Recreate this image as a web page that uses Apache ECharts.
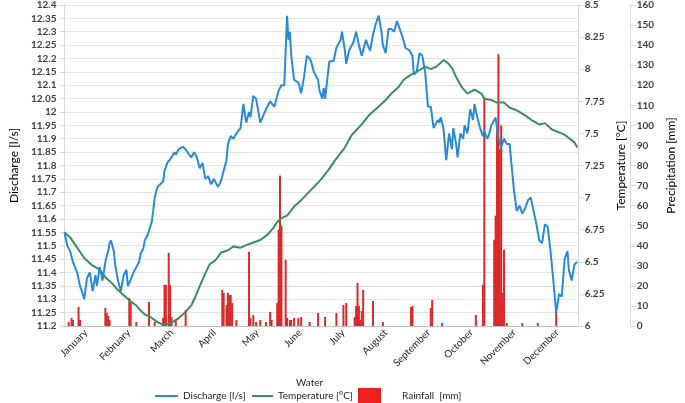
<!DOCTYPE html>
<html>
<head>
<meta charset="utf-8">
<script src="https://cdn.jsdelivr.net/npm/echarts@6/dist/echarts.min.js"></script>
<style>
html, body { margin: 0; padding: 0; background: #fff; }
#main { width: 685px; height: 403px; }
</style>
</head>
<body>
<div id="main"></div>
<script>
// months on the category axis, data on a hidden day-of-year axis (0..365)
const months = ['January', 'February', 'March', 'April', 'May', 'June', 'July',
    'August', 'September', 'October', 'November', 'December'];

// [day, discharge l/s]
const discharge = [
    [0, 11.55], [2, 11.50], [4, 11.48], [6, 11.44], [9, 11.40], [11, 11.35], [13, 11.32], [14, 11.30],
    [16, 11.38], [18, 11.40], [20, 11.33], [22, 11.39], [23, 11.35], [25, 11.42], [27, 11.37], [29, 11.44],
    [31, 11.48], [32, 11.51], [33, 11.52], [35, 11.48], [36, 11.43], [38, 11.37], [40, 11.33], [42, 11.39],
    [44, 11.41], [45, 11.35], [46, 11.36], [49, 11.40], [51, 11.42], [53, 11.44], [54, 11.47], [56, 11.49],
    [57, 11.52], [59, 11.54], [62, 11.59], [63, 11.63], [64, 11.68], [66, 11.72], [68, 11.73], [70, 11.74],
    [71, 11.78], [73, 11.81], [76, 11.83], [78, 11.85], [79, 11.84], [81, 11.86], [84, 11.87], [86, 11.86],
    [87, 11.86], [90, 11.83], [92, 11.85], [94, 11.83], [96, 11.79], [98, 11.81], [100, 11.75], [102, 11.76],
    [104, 11.73], [106, 11.75], [109, 11.72], [111, 11.74], [113, 11.78], [115, 11.82], [116, 11.88], [118, 11.91],
    [120, 11.90], [122, 11.92], [125, 11.94], [127, 12.03], [129, 11.96], [131, 12.00], [132, 11.98], [134, 12.06],
    [136, 12.05], [138, 11.99], [139, 11.96], [143, 12.01], [146, 12.04], [149, 12.02], [152, 12.08], [154, 12.10],
    [156, 12.10], [158, 12.36], [159, 12.27], [160, 12.30], [161, 12.21], [163, 12.12], [166, 12.11], [168, 12.07],
    [170, 12.13], [172, 12.21], [174, 12.20], [175, 12.19], [177, 12.15], [180, 12.12], [181, 12.08], [183, 12.05],
    [184, 12.09], [185, 12.05], [188, 12.19], [191, 12.19], [193, 12.24], [196, 12.27], [197, 12.30], [199, 12.23],
    [200, 12.18], [202, 12.23], [205, 12.26], [207, 12.30], [209, 12.25], [211, 12.21], [213, 12.25], [214, 12.27],
    [216, 12.24], [217, 12.23], [219, 12.29], [221, 12.33], [223, 12.36], [224, 12.33], [225, 12.30], [226, 12.25],
    [228, 12.22], [230, 12.31], [232, 12.31], [234, 12.30], [236, 12.34], [238, 12.31], [240, 12.28], [242, 12.24],
    [245, 12.23], [247, 12.21], [248, 12.14], [250, 12.15], [252, 12.22], [254, 12.21], [256, 12.15], [258, 12.02],
    [260, 12.02], [262, 11.94], [265, 11.97], [266, 11.96], [267, 11.98], [269, 11.94], [271, 11.82], [273, 11.92],
    [275, 11.86], [276, 11.94], [278, 11.88], [279, 11.83], [281, 11.92], [283, 11.90], [284, 11.95], [286, 11.92],
    [288, 12.01], [290, 11.97], [291, 12.03], [293, 11.98], [295, 11.94], [297, 11.91], [298, 11.93], [300, 11.90],
    [301, 11.91], [303, 11.95], [306, 11.98], [308, 11.90], [310, 11.87], [312, 11.90], [314, 11.88], [316, 11.88],
    [317, 11.82], [319, 11.71], [321, 11.63], [323, 11.65], [325, 11.62], [327, 11.64], [329, 11.67], [331, 11.68],
    [333, 11.63], [335, 11.58], [337, 11.52], [339, 11.51], [341, 11.58], [343, 11.57], [345, 11.48], [347, 11.37],
    [349, 11.25], [350, 11.28], [351, 11.32], [353, 11.31], [355, 11.45], [357, 11.48], [358, 11.41], [360, 11.37],
    [362, 11.43], [364, 11.44]
];

// [day, water temperature °C]
const temperature = [
    [0, 6.73], [4, 6.69], [9, 6.61], [14, 6.53], [20, 6.47], [25, 6.44], [29, 6.38], [34, 6.33], [38, 6.28],
    [42, 6.24], [46, 6.20], [51, 6.16], [54, 6.12], [57, 6.09], [61, 6.07], [66, 6.03], [70, 6.01], [75, 6.02],
    [78, 6.04], [81, 6.06], [86, 6.11], [90, 6.16], [93, 6.23], [96, 6.31], [100, 6.41], [103, 6.48], [107, 6.51],
    [111, 6.57], [116, 6.59], [120, 6.62], [125, 6.61], [129, 6.63], [134, 6.65], [139, 6.67], [144, 6.71],
    [148, 6.76], [151, 6.81], [154, 6.84], [158, 6.86], [163, 6.93], [168, 6.98], [175, 7.06], [182, 7.14],
    [187, 7.21], [192, 7.29], [199, 7.39], [204, 7.49], [211, 7.57], [216, 7.64], [223, 7.71], [228, 7.76],
    [232, 7.81], [237, 7.86], [241, 7.92], [245, 7.95], [250, 7.98], [256, 8.02], [260, 8.00], [264, 8.02],
    [269, 8.07], [272, 8.05], [275, 8.01], [278, 7.94], [282, 7.86], [286, 7.81], [291, 7.84], [296, 7.81],
    [298, 7.77], [303, 7.76], [307, 7.74], [312, 7.74], [316, 7.70], [321, 7.68], [327, 7.64], [332, 7.60],
    [337, 7.57], [341, 7.58], [346, 7.53], [355, 7.49], [362, 7.43], [364, 7.39]
];

// [day, rainfall mm]
const rainfall = [
    [3, 2], [5, 4], [6, 3], [10, 9.5], [11, 3], [29, 9], [30, 6.5], [31, 5], [32, 3], [46, 14], [47, 11.5],
    [51, 2], [60, 12], [64, 2], [70, 4], [71, 20.5], [72, 20.5], [74, 36.5], [75, 20.5], [76, 4.5], [79, 3],
    [86, 8], [112, 18], [113, 16.5], [115, 10.5], [116, 16.5], [117, 15.5], [118, 15.5], [119, 11.5], [122, 3],
    [131, 37], [132, 4], [134, 5.5], [136, 2], [139, 3], [143, 2], [146, 7], [147, 3], [151, 11.5], [152, 48],
    [153, 75], [154, 50], [157, 33], [158, 4], [160, 3], [161, 3], [163, 4], [166, 4], [168, 4.5], [174, 2],
    [180, 6.5], [185, 4.5], [193, 6.5], [198, 10.5], [200, 11.5], [206, 4.5], [207, 10], [208, 21.5], [209, 10],
    [210, 3], [211, 7.5], [212, 18], [219, 12.5], [226, 2], [246, 9.5], [247, 10], [260, 9], [261, 13],
    [268, 1.5], [292, 5.5], [297, 20.5], [298, 114], [305, 43], [306, 55], [307, 98], [308, 135.5], [309, 88],
    [310, 100], [311, 16.5], [312, 38], [314, 1.5], [325, 1.5], [336, 1.5], [349, 7]
];

const font = 'Lato, "Noto Sans", sans-serif';
const blue = '#2a8ad8';
const green = '#3c8d5d';
const red = '#d92b2b';
const num = v => String(Math.round(v * 100) / 100);

var chart = echarts.init(document.getElementById('main'));

var option = {
    animation: false,
    textStyle: { fontFamily: font },
    grid: { left: 54, right: 97, top: 5, bottom: 77 },
    xAxis: [
        {
            type: 'category',
            data: months,
            boundaryGap: true,
            axisLine: { lineStyle: { color: '#bfbfbf' } },
            axisTick: { length: 5, lineStyle: { color: '#bfbfbf' } },
            axisLabel: { rotate: 45, interval: 0, fontSize: 10, color: '#262626', margin: 5 },
            splitLine: { show: false }
        },
        { type: 'value', min: 0, max: 365, show: false }
    ],
    yAxis: [
        {
            type: 'value', position: 'left', min: 11.2, max: 12.4, interval: 0.05,
            name: 'Discharge [l/s]', nameLocation: 'middle', nameGap: 40, nameRotate: 90,
            nameTextStyle: { fontSize: 12, color: '#000' },
            axisLine: { show: true, lineStyle: { color: '#d9d9d9' } },
            axisTick: { show: true, length: 5, lineStyle: { color: '#d9d9d9' } },
            axisLabel: { fontSize: 10, fontWeight: 'bold', color: '#404040', margin: 8, formatter: num },
            splitLine: { lineStyle: { color: '#e3e3e3' } }
        },
        {
            type: 'value', position: 'right', min: 6, max: 8.5, interval: 0.25,
            name: 'Temperature [°C]', nameLocation: 'middle', nameGap: 28, nameRotate: 90,
            nameTextStyle: { fontSize: 12, color: '#000' },
            axisLine: { show: true, lineStyle: { color: '#d9d9d9' } },
            axisTick: { show: true, length: 5, lineStyle: { color: '#d9d9d9' } },
            axisLabel: { fontSize: 10, fontWeight: 'bold', color: '#404040', margin: 6, formatter: num },
            splitLine: { show: false }
        },
        {
            type: 'value', position: 'right', offset: 52, min: 0, max: 160, interval: 10,
            name: 'Precipitation [mm]', nameLocation: 'middle', nameGap: 31, nameRotate: 90,
            nameTextStyle: { fontSize: 12, color: '#000' },
            axisLine: { show: true, lineStyle: { color: '#d9d9d9' } },
            axisTick: { show: true, length: 5, lineStyle: { color: '#d9d9d9' } },
            axisLabel: { fontSize: 10, fontWeight: 'bold', color: '#404040', margin: 6 },
            splitLine: { show: false }
        }
    ],
    legend: [
        {
            left: 155, top: 391, padding: 0, itemWidth: 23, itemHeight: 2,
            data: [{ name: 'Discharge [l/s]', icon: 'rect' }],
            textStyle: { fontSize: 10, color: '#262626' }
        },
        {
            left: 252, top: 391, padding: 0, itemWidth: 21, itemHeight: 2,
            data: [{ name: 'Temperature [°C]', icon: 'rect' }],
            textStyle: { fontSize: 10, color: '#262626' }
        },
        {
            left: 358, top: 388, padding: 0, itemWidth: 23, itemHeight: 15,
            data: [{ name: 'Rainfall  [mm]', icon: 'rect', itemStyle: { color: '#ee1f1f' } }],
            textStyle: { fontSize: 10, color: '#262626', padding: [0, 0, 0, 16] }
        }
    ],
    graphic: [
        {
            type: 'text', left: 296, top: 378,
            style: { text: 'Water', font: '10px ' + font, fill: '#262626' }
        }
    ],
    series: [
        {
            name: 'Rainfall  [mm]', type: 'bar', xAxisIndex: 1, yAxisIndex: 2,
            data: rainfall, barWidth: 2, itemStyle: { color: red }, z: 2
        },
        {
            name: 'Temperature [°C]', type: 'line', xAxisIndex: 1, yAxisIndex: 1,
            data: temperature, symbol: 'none', smooth: false,
            lineStyle: { color: green, width: 2 }, itemStyle: { color: green }, z: 3
        },
        {
            name: 'Discharge [l/s]', type: 'line', xAxisIndex: 1, yAxisIndex: 0,
            data: discharge, symbol: 'none',
            lineStyle: { color: blue, width: 2 }, itemStyle: { color: blue }, z: 4
        }
    ]
};

chart.setOption(option);
</script>
</body>
</html>
